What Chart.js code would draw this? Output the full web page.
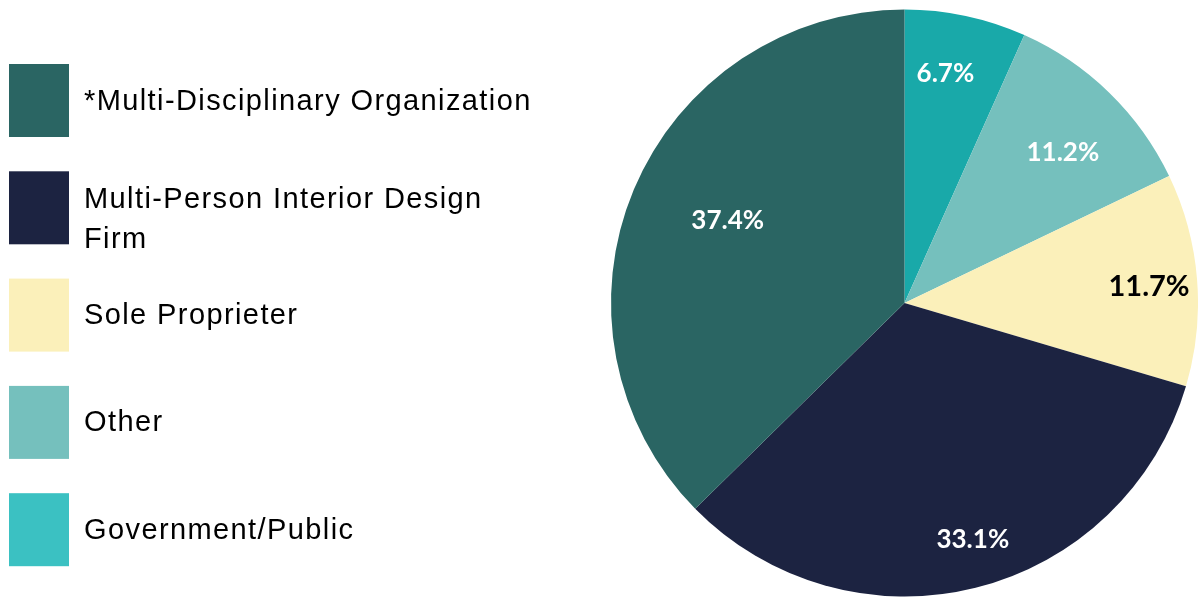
<!DOCTYPE html>
<html>
<head>
<meta charset="utf-8">
<script src="https://cdn.jsdelivr.net/npm/chart.js@4"></script>
<style>
  html, body { margin: 0; padding: 0; background: #fff; }
  #wrap { width: 1198px; height: 598px; }
</style>
</head>
<body>
<div id="wrap"><canvas id="myChart" width="1198" height="598"></canvas></div>
<script>
// slices, clockwise from 12 o'clock
var categories = ['Government/Public', 'Other', 'Sole Proprieter', ['Multi-Person Interior Design', 'Firm'], '*Multi-Disciplinary Organization'];
var shares = [6.7, 11.2, 11.7, 33.1, 37.4];
var sliceColors = ['#19a9a9', '#75c0bd', '#fbf0ba', '#1c2341', '#2a6563'];
var legendColors = ['#3bc1c2', '#75c0bd', '#fbf0ba', '#1c2341', '#2a6563'];
var valueColors = ['#ffffff', '#ffffff', '#000000', '#ffffff', '#ffffff'];

// where the % text sits along each slice (fraction of radius, angle nudge)
var labelRadius = [0.795, 0.745, 0.835, 0.84, 0.665];
var labelNudge = [-0.034, 0.038, 0.015, -0.036, 0.04];

// legend on the left, listed bottom slice first
var sideLegend = {
    id: 'sideLegend',
    afterDraw: function (chart) {
        var ctx = chart.ctx;
        var n = categories.length;
        ctx.save();
        ctx.font = '29px "Liberation Sans"';
        ctx.letterSpacing = '1.4px';
        ctx.textBaseline = 'alphabetic';
        for (var k = 0; k < n; k++) {
            var i = n - 1 - k;
            var top = 64 + k * 107.3;
            ctx.fillStyle = legendColors[i];
            ctx.fillRect(9, top, 60, 73);
            var lines = Array.isArray(categories[i]) ? categories[i] : [categories[i]];
            ctx.fillStyle = '#000';
            var first = lines.length > 1 ? top + 37 : top + 45.5;
            lines.forEach(function (line, j) {
                ctx.fillText(line, 84, first + j * 40);
            });
        }
        ctx.restore();
    }
};

// percentage text inside the slices
var sliceValues = {
    id: 'sliceValues',
    afterDatasetsDraw: function (chart) {
        var ctx = chart.ctx;
        var meta = chart.getDatasetMeta(0);
        ctx.save();
        ctx.textAlign = 'center';
        ctx.textBaseline = 'middle';
        meta.data.forEach(function (arc, i) {
            var mid = (arc.startAngle + arc.endAngle) / 2 + labelNudge[i];
            var r = arc.outerRadius * labelRadius[i];
            var x = arc.x + Math.cos(mid) * r;
            var y = arc.y + Math.sin(mid) * r;
            ctx.font = valueColors[i] === '#000000' ? 'bold 29px Lato' : 'bold 26px Lato';
            ctx.fillStyle = valueColors[i];
            ctx.fillText(shares[i].toFixed(1) + '%', x, y);
        });
        ctx.restore();
    }
};

var config = {
    type: 'pie',
    data: {
        labels: categories,
        datasets: [{
            data: shares,
            backgroundColor: sliceColors,
            borderWidth: 0
        }]
    },
    options: {
        responsive: false,
        animation: false,
        layout: { padding: { left: 611, right: 0, top: 9, bottom: 1 } },
        plugins: {
            legend: { display: false },
            tooltip: { enabled: false }
        }
    },
    plugins: [sliceValues, sideLegend]
};

var ctx = document.getElementById('myChart').getContext('2d');
var myChart = new Chart(ctx, config);
</script>
</body>
</html>
